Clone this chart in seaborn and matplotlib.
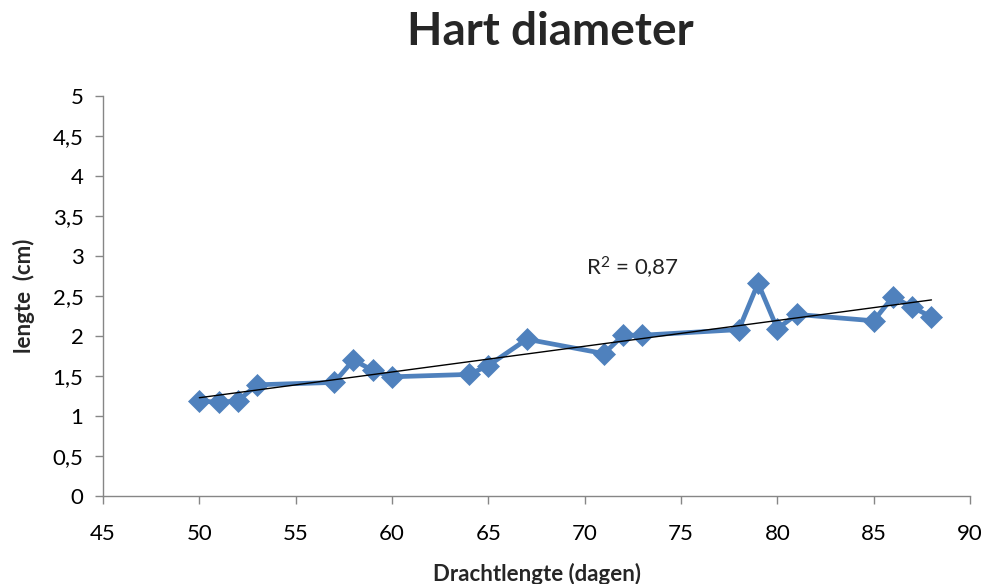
import matplotlib
matplotlib.use("Agg")
import matplotlib.pyplot as plt
import seaborn as sns
import pandas as pd
from matplotlib.ticker import FuncFormatter, MultipleLocator

days = [50, 51, 52, 53, 57, 58, 59, 60, 64, 65, 67, 71, 72, 73, 78, 79, 80, 81, 85, 86, 87, 88]
length_cm = [1.19, 1.17, 1.19, 1.39, 1.42, 1.70, 1.57, 1.49, 1.52, 1.63, 1.96, 1.78,
             2.01, 2.01, 2.08, 2.66, 2.09, 2.27, 2.19, 2.49, 2.36, 2.24]
r2_label = "R$^2$ = 0,87"

df = pd.DataFrame({"days": days, "length": length_cm})

sns.set_theme(style="white")
plt.rcParams["font.family"] = ["Lato", "DejaVu Sans"]
plt.rcParams["mathtext.fontset"] = "custom"
plt.rcParams["mathtext.rm"] = "Lato"
plt.rcParams["mathtext.default"] = "regular"

fig = plt.figure(figsize=(9.88, 5.84), dpi=100)
ax = fig.add_axes([103 / 988, 88 / 584, 867 / 988, 400 / 584])

blue = "#4F81BD"
sns.lineplot(data=df, x="days", y="length", ax=ax, color=blue, linewidth=3.4,
             marker="D", markersize=11.5, markeredgecolor=blue, markeredgewidth=0.5,
             estimator=None, sort=False)
sns.regplot(data=df, x="days", y="length", ax=ax, scatter=False, ci=None, truncate=True,
            line_kws={"color": "black", "linewidth": 1.0})

ax.set_xlim(45, 90)
ax.set_ylim(0, 5)
ax.xaxis.set_major_locator(MultipleLocator(5))
ax.yaxis.set_major_locator(MultipleLocator(0.5))

def comma(v, pos):
    return f"{v:g}".replace(".", ",")

ax.yaxis.set_major_formatter(FuncFormatter(comma))
ax.xaxis.set_major_formatter(FuncFormatter(comma))

grey = "#868686"
for side in ["top", "right"]:
    ax.spines[side].set_visible(False)
for side in ["left", "bottom"]:
    ax.spines[side].set_color(grey)
    ax.spines[side].set_linewidth(1.0)
ax.tick_params(axis="both", which="major", direction="out", length=6, width=1,
               color=grey, labelsize=16, labelcolor="#000000", pad=8)
ax.tick_params(axis="x", pad=14)
ax.tick_params(left=True, bottom=True)
ax.grid(False)

ax.set_xlabel("Drachtlengte (dagen)", fontsize=16, fontweight="bold", labelpad=14)
ax.set_ylabel("lengte  (cm)", fontsize=16, fontweight="bold", labelpad=13)

ax.text(72.5, 2.85, r2_label, fontsize=16, ha="center", va="center", color="#222222")

fig.text(550 / 988, 1 - 32 / 584, "Hart diameter", fontsize=33, fontweight="bold",
         ha="center", va="center")

fig.savefig("out.png", dpi=100, facecolor="white")
